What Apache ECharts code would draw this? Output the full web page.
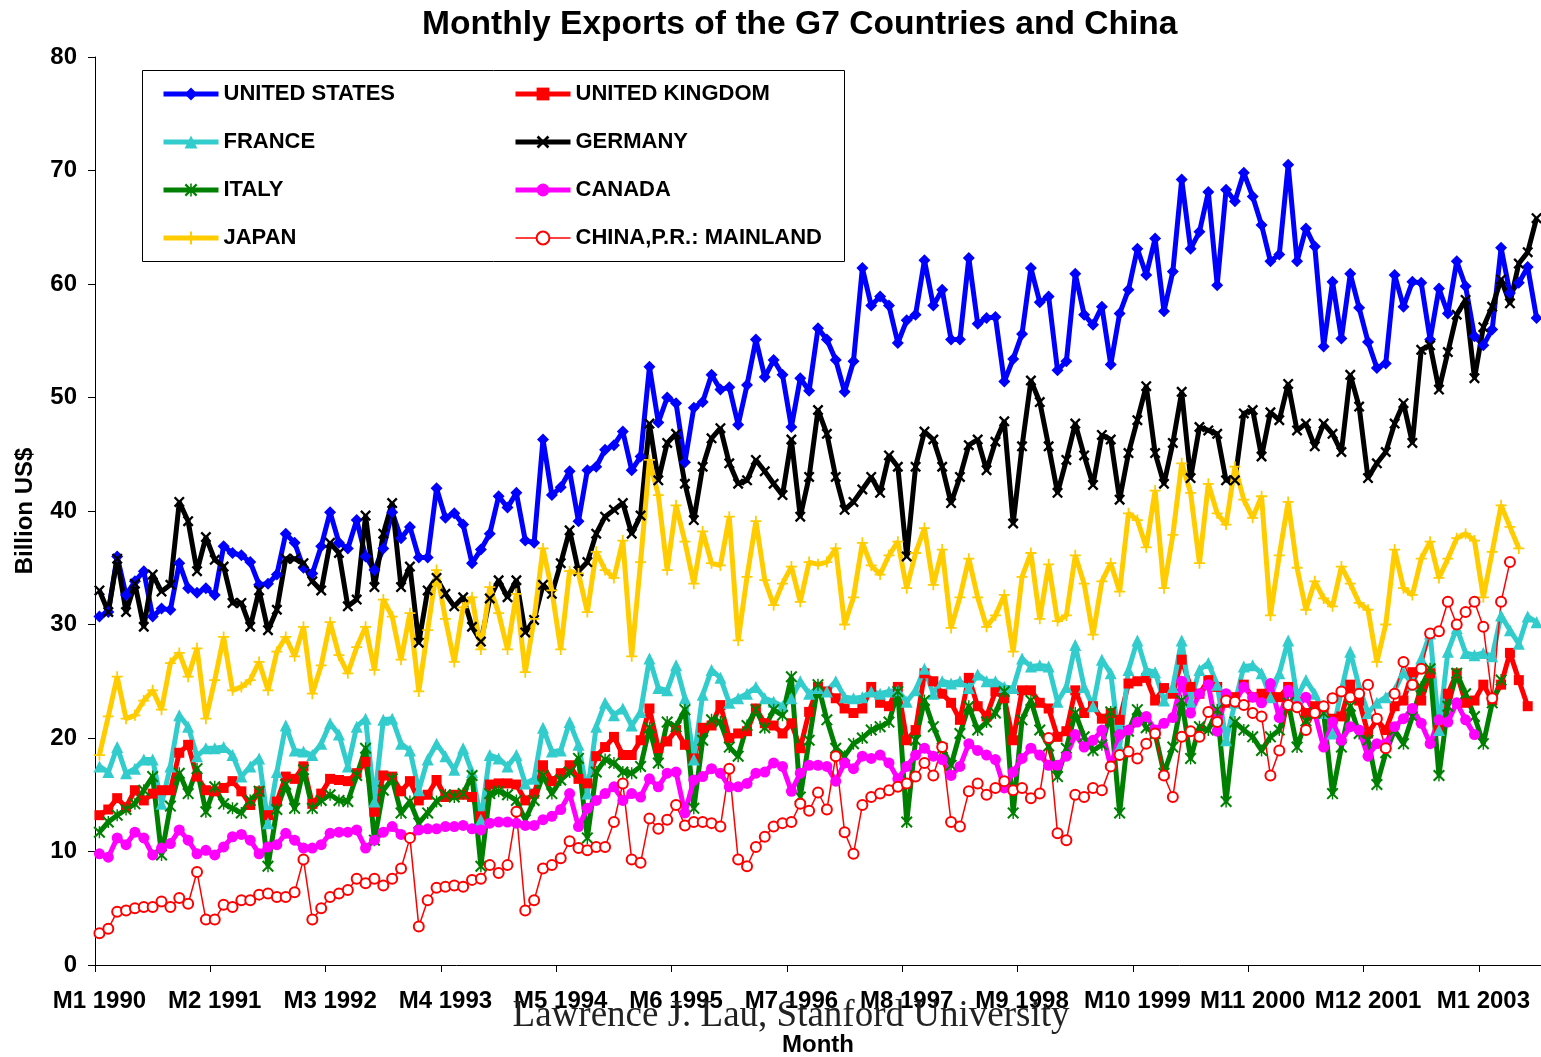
<!DOCTYPE html>
<html><head><meta charset="utf-8">
<script src="https://cdn.jsdelivr.net/npm/echarts@6/dist/echarts.min.js"></script>
<style>html,body{margin:0;padding:0;background:#fff}#c{width:1541px;height:1057px}</style>
</head><body><div id="c"></div>
<script>
const categories = [
'M1 1990','M2 1990','M3 1990','M4 1990','M5 1990','M6 1990','M7 1990','M8 1990','M9 1990','M10 1990','M11 1990','M12 1990',
'M1 1991','M2 1991','M3 1991','M4 1991','M5 1991','M6 1991','M7 1991','M8 1991','M9 1991','M10 1991','M11 1991','M12 1991',
'M1 1992','M2 1992','M3 1992','M4 1992','M5 1992','M6 1992','M7 1992','M8 1992','M9 1992','M10 1992','M11 1992','M12 1992',
'M1 1993','M2 1993','M3 1993','M4 1993','M5 1993','M6 1993','M7 1993','M8 1993','M9 1993','M10 1993','M11 1993','M12 1993',
'M1 1994','M2 1994','M3 1994','M4 1994','M5 1994','M6 1994','M7 1994','M8 1994','M9 1994','M10 1994','M11 1994','M12 1994',
'M1 1995','M2 1995','M3 1995','M4 1995','M5 1995','M6 1995','M7 1995','M8 1995','M9 1995','M10 1995','M11 1995','M12 1995',
'M1 1996','M2 1996','M3 1996','M4 1996','M5 1996','M6 1996','M7 1996','M8 1996','M9 1996','M10 1996','M11 1996','M12 1996',
'M1 1997','M2 1997','M3 1997','M4 1997','M5 1997','M6 1997','M7 1997','M8 1997','M9 1997','M10 1997','M11 1997','M12 1997',
'M1 1998','M2 1998','M3 1998','M4 1998','M5 1998','M6 1998','M7 1998','M8 1998','M9 1998','M10 1998','M11 1998','M12 1998',
'M1 1999','M2 1999','M3 1999','M4 1999','M5 1999','M6 1999','M7 1999','M8 1999','M9 1999','M10 1999','M11 1999','M12 1999',
'M1 2000','M2 2000','M3 2000','M4 2000','M5 2000','M6 2000','M7 2000','M8 2000','M9 2000','M10 2000','M11 2000','M12 2000',
'M1 2001','M2 2001','M3 2001','M4 2001','M5 2001','M6 2001','M7 2001','M8 2001','M9 2001','M10 2001','M11 2001','M12 2001',
'M1 2002','M2 2002','M3 2002','M4 2002','M5 2002','M6 2002','M7 2002','M8 2002','M9 2002','M10 2002','M11 2002','M12 2002',
'M1 2003','M2 2003','M3 2003','M4 2003','M5 2003','M6 2003','M7 2003'
];
const yTicks = [0,10,20,30,40,50,60,70,80];

const unitedStates = [30.7,31.1,36.0,32.6,33.8,34.7,30.7,31.4,31.3,35.4,
 33.2,32.8,33.2,32.6,36.9,36.3,36.1,35.5,33.5,33.6,
 34.4,38.0,37.2,35.0,34.5,36.9,39.9,37.2,36.7,39.2,
 36.0,34.8,36.7,39.9,37.6,38.6,35.9,35.9,42.0,39.4,
 39.8,38.8,35.4,36.6,38.0,41.3,40.3,41.6,37.4,37.2,
 46.3,41.4,42.1,43.5,39.1,43.6,43.9,45.4,45.8,47.0,
 43.6,44.8,52.7,47.8,50.0,49.5,44.3,49.1,49.6,52.0,
 50.7,50.9,47.6,51.1,55.1,51.8,53.3,52.0,47.4,51.7,
 50.6,56.1,55.1,53.3,50.5,53.2,61.4,58.1,58.9,58.1,
 54.8,56.8,57.3,62.1,58.1,59.5,55.1,55.1,62.3,56.5,
 57.0,57.1,51.4,53.4,55.6,61.4,58.4,58.9,52.4,53.2,
 60.9,57.3,56.4,58.0,52.9,57.4,59.5,63.1,60.8,64.0,
 57.6,61.1,69.2,63.1,64.6,68.1,59.9,68.3,67.3,69.8,
 67.7,65.2,62.0,62.6,70.5,62.0,64.9,63.3,54.5,60.2,
 55.2,60.9,57.9,54.9,52.6,53.0,60.8,58.0,60.2,60.1,
 55.1,59.6,57.4,62.0,59.8,55.4,54.6,56.0,63.2,59.2,
 60.1,61.5,57.0];

const unitedKingdom = [13.2,13.7,14.7,13.9,15.4,14.5,15.1,15.4,15.4,18.7,
 19.4,16.6,15.4,15.3,15.6,16.2,15.3,14.1,15.3,13.2,
 14.4,16.6,16.4,17.5,14.2,15.1,16.4,16.3,16.2,16.9,
 17.9,13.5,16.7,16.6,15.3,16.2,14.5,15.0,16.3,14.8,
 15.0,15.0,14.8,13.1,15.9,16.0,16.0,15.9,14.5,15.1,
 17.6,16.2,16.9,17.6,16.4,16.0,18.4,19.2,20.1,18.5,
 18.5,19.8,22.6,19.1,19.7,20.7,19.4,18.2,20.9,21.1,
 22.9,20.0,20.4,20.6,22.6,21.3,21.1,20.4,21.3,19.1,
 22.3,24.5,24.1,23.5,22.6,22.2,22.6,24.5,23.1,22.8,
 24.5,19.8,20.7,25.7,25.0,23.9,23.1,21.6,25.3,22.8,
 21.9,24.1,23.5,19.8,24.2,24.2,23.1,22.6,20.1,20.6,
 24.2,22.2,22.8,21.7,22.2,21.6,24.8,25.0,25.3,23.3,
 24.4,23.9,26.9,24.5,23.9,25.1,24.5,23.1,23.6,24.7,
 23.6,23.9,23.6,23.6,24.5,23.2,22.2,22.8,22.2,21.7,
 21.9,24.7,23.3,20.4,21.6,20.7,22.8,23.3,25.8,23.3,
 25.7,20.7,23.9,25.7,23.1,23.3,24.7,23.3,24.7,27.5,
 25.1,22.8,null];

const france = [17.5,17.0,19.2,16.9,17.3,18.1,18.1,14.2,17.5,22.0,
 21.0,18.4,19.1,19.1,19.2,18.5,16.6,17.5,18.2,12.5,
 17.0,21.1,18.9,18.8,18.5,19.5,21.3,20.3,17.5,21.0,
 21.7,14.4,21.6,21.7,19.5,18.9,15.4,18.1,19.5,18.4,
 17.2,19.1,17.0,12.8,18.5,18.2,17.5,18.5,16.0,16.4,
 20.9,18.8,18.9,21.4,19.4,15.1,21.0,23.1,22.0,22.6,
 21.1,22.3,27.0,24.4,24.2,26.4,23.5,18.1,23.8,26.0,
 25.3,23.1,23.5,23.9,24.5,23.5,23.2,22.8,23.5,25.0,
 23.9,24.4,24.1,25.0,23.6,23.5,23.6,24.1,23.9,24.1,
 24.2,23.2,24.2,26.1,23.9,25.0,24.8,25.0,24.4,25.6,
 25.0,25.0,24.5,24.4,27.0,26.3,26.4,26.3,23.2,24.5,
 28.2,24.5,22.8,26.9,25.7,19.2,26.0,28.6,26.0,25.8,
 23.3,24.5,28.6,23.2,26.0,26.6,24.7,19.8,23.1,26.3,
 26.4,25.7,23.6,25.7,28.6,23.6,25.1,23.9,22.2,20.4,
 24.2,27.6,24.5,22.2,23.1,23.6,24.2,25.8,24.7,27.0,
 29.2,20.7,27.6,29.7,27.5,27.3,27.5,27.2,30.8,29.5,
 28.3,30.7,30.2];

const germany = [33.0,31.1,35.8,31.1,33.6,29.8,34.4,32.9,33.5,40.8,
 39.1,34.7,37.7,35.7,35.1,31.9,31.9,29.8,33.0,29.5,
 31.3,35.8,35.8,35.4,33.8,33.0,37.2,36.3,31.6,32.2,
 39.6,33.3,38.0,40.7,33.3,35.1,28.4,33.0,34.1,32.7,
 31.6,32.4,29.8,28.5,32.3,33.9,32.4,33.9,29.3,30.4,
 33.5,32.7,35.4,38.3,34.7,35.5,38.0,39.5,40.1,40.7,
 38.0,39.6,47.7,42.7,46.0,46.8,42.4,39.2,43.9,46.4,
 47.3,44.2,42.4,42.7,44.5,43.5,42.4,41.4,46.3,39.5,
 43.0,48.9,46.8,43.0,40.1,40.8,41.9,43.0,41.6,44.9,
 43.9,36.0,43.9,47.0,46.3,43.9,40.7,43.0,45.8,46.3,
 43.6,46.1,47.9,38.9,45.7,51.5,49.6,45.7,41.6,44.5,
 47.7,44.9,42.3,46.7,46.3,41.0,45.1,48.0,51.0,45.1,
 42.4,46.0,50.5,42.9,47.4,47.1,46.8,42.7,42.7,48.6,
 48.9,44.8,48.7,48.0,51.2,47.1,47.7,45.7,47.7,46.8,
 45.2,52.0,49.2,42.9,44.2,45.2,47.7,49.5,46.0,54.2,
 54.6,50.7,54.0,57.3,58.6,51.7,56.2,58.0,60.4,58.3,
 61.8,62.8,65.8];

const italy = [11.7,12.6,13.2,13.7,14.2,15.4,16.6,9.7,14.0,16.9,
 15.1,17.3,13.5,15.7,14.2,13.8,13.4,14.5,15.3,8.7,
 13.7,15.9,13.8,17.2,13.8,14.5,15.0,14.5,14.4,16.7,
 19.1,11.0,15.4,16.4,13.4,14.4,12.5,13.4,14.4,15.0,
 14.8,15.1,16.7,8.7,15.1,15.3,15.0,14.5,12.8,14.5,
 16.7,15.1,16.3,17.0,18.2,11.2,17.0,18.1,17.8,17.0,
 16.9,17.5,20.9,17.8,21.4,21.0,22.5,13.8,19.8,21.6,
 21.4,19.2,18.4,21.1,22.5,20.9,22.5,22.0,25.4,14.8,
 19.8,24.7,21.6,19.1,18.4,19.5,20.0,20.7,21.0,21.4,
 24.1,12.6,19.8,23.3,21.0,19.1,17.6,20.4,22.8,20.7,
 21.4,22.2,24.1,13.4,21.6,23.3,20.7,19.3,16.6,19.1,
 22.2,20.1,18.9,19.4,22.3,13.4,20.6,22.5,20.9,20.4,
 16.9,19.2,23.3,18.2,21.0,20.7,22.5,14.4,21.4,20.7,
 20.1,18.9,20.1,20.7,23.1,19.2,21.5,22.2,22.2,15.1,
 19.2,22.8,20.4,19.8,15.9,18.7,20.7,19.5,21.9,24.5,
 26.1,16.7,22.8,25.7,23.9,21.9,19.5,23.1,25.1,null,
 null,null,null];

const canada = [9.8,9.5,11.2,10.6,11.7,11.2,9.7,10.3,10.7,11.9,
 11.0,9.8,10.1,9.7,10.4,11.3,11.5,11.0,9.8,10.4,
 10.6,11.6,11.0,10.3,10.3,10.6,11.6,11.7,11.7,11.9,
 10.3,11.0,11.7,12.2,11.5,11.2,11.9,12.0,12.0,12.2,
 12.2,12.3,12.0,11.9,12.5,12.6,12.6,12.5,12.3,12.3,
 12.8,13.1,13.7,15.1,12.2,13.8,14.5,15.1,15.7,14.5,
 15.1,14.8,16.4,15.7,16.9,17.0,13.4,16.3,16.6,17.3,
 16.9,15.7,15.7,16.0,16.9,17.0,17.8,17.5,15.3,16.9,
 17.6,17.6,17.5,16.2,17.8,17.3,18.4,18.2,18.5,17.8,
 16.4,17.5,18.5,19.1,18.4,18.1,16.7,17.5,19.5,18.9,
 18.5,18.1,15.6,17.0,18.2,19.1,18.5,17.6,17.6,18.4,
 20.3,19.2,19.8,20.7,17.5,20.3,20.7,21.4,21.9,20.7,
 21.3,21.8,25.0,22.2,23.9,24.7,20.6,23.9,23.2,24.5,
 23.6,23.1,24.8,21.8,24.2,22.8,23.6,22.2,19.2,21.4,
 19.8,21.0,20.7,18.4,19.5,19.5,21.0,21.7,22.6,21.3,
 19.5,21.6,21.4,23.1,21.6,20.3,null,null,null,null,
 null,null,null];

const japan = [18.5,21.9,25.4,21.7,22.0,23.3,24.2,22.5,26.6,27.5,
 25.4,27.9,21.7,25.1,28.9,24.2,24.5,25.1,26.7,24.2,
 27.6,28.9,27.2,29.8,23.9,26.4,30.2,27.3,25.7,28.0,
 29.8,26.0,32.2,30.7,26.9,31.0,24.1,29.5,34.8,30.5,
 26.7,31.5,32.4,27.8,33.3,31.0,27.8,32.7,25.8,30.5,
 36.7,33.0,27.8,34.7,34.5,31.1,36.4,34.8,34.1,37.4,
 27.2,35.5,44.5,41.4,34.8,40.5,37.3,33.6,38.2,35.4,
 35.2,39.5,28.6,34.2,39.1,33.9,31.7,33.6,35.1,32.0,
 35.5,35.3,35.5,36.7,30.0,32.4,37.2,35.2,34.4,36.1,
 37.3,33.2,36.3,38.5,33.5,36.6,29.7,32.4,35.8,32.4,
 29.8,30.8,32.6,27.6,34.2,36.3,30.5,35.3,30.3,30.8,
 36.1,33.6,29.1,33.8,35.4,32.9,39.8,39.2,36.8,41.8,
 33.2,37.9,44.2,41.6,35.4,42.4,39.8,38.8,43.9,41.0,
 39.4,41.3,30.8,36.1,40.8,35.0,31.3,33.8,32.3,31.6,
 35.1,33.6,31.9,31.3,26.7,30.0,36.6,33.2,32.6,35.8,
 37.3,34.1,35.8,37.6,38.0,37.4,32.4,36.4,40.5,38.6,
 36.7,null,null];

const china = [2.8,3.2,4.7,4.8,5.0,5.1,5.1,5.6,5.1,5.9,
 5.4,8.2,4.0,4.0,5.3,5.1,5.7,5.7,6.2,6.3,
 6.0,6.0,6.4,9.3,4.0,5.0,6.0,6.3,6.6,7.6,
 7.2,7.6,7.0,7.6,8.5,11.2,3.4,5.7,6.8,6.9,
 7.0,6.9,7.5,7.6,8.8,8.1,8.8,13.5,4.8,5.7,
 8.5,8.8,9.4,10.9,10.3,10.1,10.4,10.4,12.6,16.0,
 9.3,9.0,12.9,12.0,12.8,14.1,12.3,12.6,12.6,12.5,
 12.2,17.3,9.3,8.7,10.4,11.3,12.2,12.5,12.6,14.2,
 13.6,15.2,13.7,18.4,11.7,9.8,14.1,14.8,15.1,15.4,
 15.7,16.0,16.6,17.8,16.7,19.2,12.6,12.2,15.3,16.0,
 15.0,15.6,16.2,15.4,15.6,14.7,15.1,20.0,11.6,11.0,
 15.0,14.8,15.6,15.4,17.5,18.5,18.8,18.2,19.5,20.4,
 16.7,14.8,20.1,20.6,20.1,22.3,21.4,23.3,23.2,22.9,
 22.2,21.9,16.7,18.9,22.9,22.7,20.7,22.2,22.8,23.5,
 24.1,23.6,23.9,24.7,21.7,19.1,23.9,26.7,24.7,26.1,
 29.2,29.4,32.0,30.0,31.1,32.0,29.8,23.5,32.0,35.5,
 null,null,null];

const FONT = '"Liberation Sans", Arial, sans-serif';
const X_SYM = 'path://M0,1.5 L1.5,0 L10,8.5 L8.5,10 Z M8.5,0 L10,1.5 L1.5,10 L0,8.5 Z';
const STAR_SYM = 'path://M0,1.2 L1.2,0 L10,8.8 L8.8,10 Z M8.8,0 L10,1.2 L1.2,10 L0,8.8 Z M4.4,0 L5.6,0 L5.6,10 L4.4,10 Z';
const PLUS_SYM = 'path://M4.2,0 L5.8,0 L5.8,4.2 L10,4.2 L10,5.8 L5.8,5.8 L5.8,10 L4.2,10 L4.2,5.8 L0,5.8 L0,4.2 L4.2,4.2 Z';

function mk(name, data, color, symbol, size, width, extra) {
  return Object.assign({
    name, type: 'line', data,
    symbol, symbolSize: size,
    showAllSymbol: true,
    lineStyle: { color, width },
    itemStyle: { color },
    emphasis: { disabled: true },
    connectNulls: false
  }, extra || {});
}
function li(name, w) { return { name, lineStyle: { width: w } }; }

const chart = echarts.init(document.getElementById('c'), null, { renderer: 'canvas' });
const legendText = { fontFamily: FONT, fontWeight: 'bold', fontSize: 22, color: '#000' };
chart.setOption({
  animation: false,
  backgroundColor: '#fff',
  title: {
    text: 'Monthly Exports of the G7 Countries and China',
    left: 417, top: 3,
    textStyle: { fontFamily: FONT, fontWeight: 'bold', fontSize: 33.6, color: '#000' }
  },
  legend: [
    { data: [li('UNITED STATES', 5), li('FRANCE', 5), li('ITALY', 5), li('JAPAN', 5)],
      orient: 'vertical', left: 161, top: 83,
      itemWidth: 55, itemHeight: 16, itemGap: 26, padding: 0, textStyle: legendText, selectedMode: false },
    { data: [li('UNITED KINGDOM', 5), li('GERMANY', 5), li('CANADA', 5), li('CHINA,P.R.: MAINLAND', 1.5)],
      orient: 'vertical', left: 513, top: 83,
      itemWidth: 55, itemHeight: 16, itemGap: 26, padding: 0, textStyle: legendText, selectedMode: false }
  ],
  grid: { left: 95, top: 57, width: 1446, height: 908, containLabel: false, outerBoundsMode: 'none' },
  xAxis: {
    type: 'category', data: categories, boundaryGap: true,
    name: 'Month', nameLocation: 'middle', nameGap: 68,
    nameTextStyle: { fontFamily: FONT, fontWeight: 'bold', fontSize: 24, color: '#000' },
    axisLine: { lineStyle: { color: '#000', width: 1 } },
    axisTick: { show: true, interval: 12, length: 7, lineStyle: { color: '#000' } },
    axisLabel: { interval: 12, margin: 24, fontFamily: FONT, fontWeight: 'bold', fontSize: 24, color: '#000' },
    splitLine: { show: false }
  },
  yAxis: {
    type: 'value', min: yTicks[0], max: yTicks[yTicks.length - 1], interval: 10,
    name: 'Billion US$', nameLocation: 'middle', nameGap: 58, nameRotate: 90,
    nameTextStyle: { fontFamily: FONT, fontWeight: 'bold', fontSize: 24, color: '#000' },
    axisLine: { show: true, lineStyle: { color: '#000', width: 1 } },
    axisTick: { show: true, length: 7, lineStyle: { color: '#000' } },
    axisLabel: { margin: 18, fontFamily: FONT, fontWeight: 'bold', fontSize: 24, color: '#000' },
    splitLine: { show: false }
  },
  series: [
    mk('UNITED STATES', unitedStates, '#0000FF', 'diamond', 12, 5),
    mk('UNITED KINGDOM', unitedKingdom, '#FF0000', 'rect', 10, 5),
    mk('FRANCE', france, '#33CCCC', 'triangle', 12, 5),
    mk('GERMANY', germany, '#000000', X_SYM, 11, 5),
    mk('ITALY', italy, '#008000', STAR_SYM, 12, 5),
    mk('CANADA', canada, '#FF00FF', 'circle', 11, 5),
    mk('JAPAN', japan, '#FFCC00', PLUS_SYM, 11, 5),
    mk('CHINA,P.R.: MAINLAND', china, '#FF0000', 'emptyCircle', 10, 1.5,
       { itemStyle: { color: '#FF0000', borderColor: '#FF0000', borderWidth: 1.5 } })
  ],
  graphic: [
    { type: 'rect', z: 100, silent: true, shape: { x: 142.5, y: 70.5, width: 702, height: 191 },
      style: { fill: 'none', stroke: '#000', lineWidth: 1 } },
    { type: 'text', z: 100, silent: true, x: 791, y: 1016,
      style: { text: 'Lawrence J. Lau, Stanford University', fill: '#222', align: 'center', verticalAlign: 'middle',
        font: '37px "Liberation Serif", "Times New Roman", serif' } }
  ]
});
</script>
</body></html>
